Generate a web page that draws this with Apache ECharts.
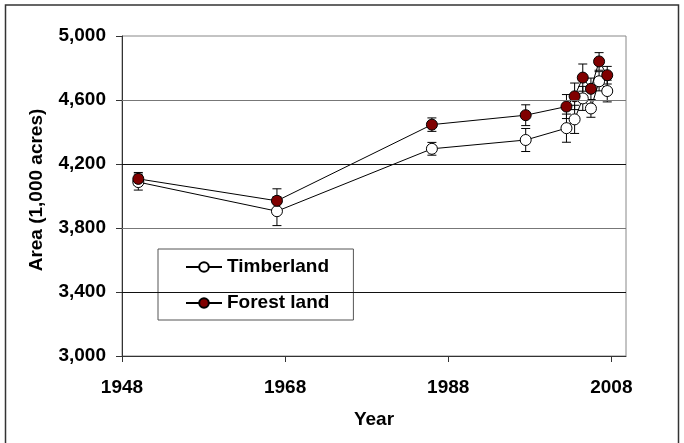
<!DOCTYPE html>
<html>
<head>
<meta charset="utf-8">
<script src="https://cdn.jsdelivr.net/npm/echarts@6/dist/echarts.min.js"></script>
<style>
html,body{margin:0;padding:0;background:#fff;}
#c{width:684px;height:443px;}
</style>
</head>
<body>
<div id="c"></div>
<script>
// ---- data ----
var years = [1950, 1967, 1986, 1997.5, 2002.5, 2003.5, 2004.5, 2005.5, 2006.5, 2007.5];
var timberland = [4087, 3905, 4295, 4350, 4424, 4479, 4610, 4547, 4717, 4656];
var timberErr  = [50, 90, 40, 72, 88, 88, 75, 55, 60, 68];
var forestLand = [4107, 3970, 4446, 4505, 4559, 4623, 4740, 4670, 4841, 4755];
var forestErr  = [40, 75, 42, 65, 75, 83, 85, 67, 55, 55];
var xTicks = [1948, 1968, 1988, 2008];
var yTicks = [3000, 3400, 3800, 4200, 4600, 5000];
var gridValues = [3400, 3800, 4200, 4600];
var gridColors = ['#111', '#777', '#111', '#777'];
var seriesNames = ['Timberland', 'Forest land'];

var FONT = 'Liberation Sans, Arial, sans-serif';
var FS = 19;

function pairs(xs, ys) { return xs.map(function (x, i) { return [x, ys[i]]; }); }
function errData(xs, ys, es) { return xs.map(function (x, i) { return [x, ys[i] - es[i], ys[i] + es[i]]; }); }

function errRender(params, api) {
  var x = api.value(0);
  var lo = api.coord([x, api.value(1)]);
  var hi = api.coord([x, api.value(2)]);
  var cap = 4.5;
  var st = { stroke: '#000', lineWidth: 1 };
  return {
    type: 'group',
    children: [
      { type: 'line', shape: { x1: lo[0], y1: lo[1], x2: hi[0], y2: hi[1] }, style: st },
      { type: 'line', shape: { x1: lo[0] - cap, y1: lo[1], x2: lo[0] + cap, y2: lo[1] }, style: st },
      { type: 'line', shape: { x1: hi[0] - cap, y1: hi[1], x2: hi[0] + cap, y2: hi[1] }, style: st }
    ]
  };
}

var chart = echarts.init(document.getElementById('c'), null, { renderer: 'canvas' });
var fmtThousands = function (v) { return v.toLocaleString('en-US'); };

chart.setOption({
  animation: false,
  backgroundColor: '#fff',
  textStyle: { fontFamily: FONT },
  graphic: [{
    type: 'rect',
    shape: { x: 5.5, y: 5, width: 673, height: 450 },
    style: { fill: 'none', stroke: '#333', lineWidth: 1.5 },
    silent: true, z: 0
  }],
  grid: {
    left: 122, right: 58, top: 36, bottom: 87,
    show: true, borderColor: '#888', borderWidth: 1, backgroundColor: 'transparent'
  },
  legend: {
    left: 158, top: 249,
    orient: 'vertical',
    data: seriesNames,
    backgroundColor: '#fff',
    borderColor: '#555', borderWidth: 1,
    padding: [8, 24, 7, 27],
    itemWidth: 36, itemHeight: 12, itemGap: 16,
    textStyle: { fontFamily: FONT, fontWeight: 'bold', fontSize: FS, color: '#000', lineHeight: 20 }
  },
  xAxis: {
    type: 'value', min: 1948, max: 2009.8,
    name: 'Year', nameLocation: 'middle', nameGap: 54,
    nameTextStyle: { fontFamily: FONT, fontWeight: 'bold', fontSize: FS, color: '#000' },
    axisLine: { show: true, lineStyle: { color: '#333', width: 1 } },
    axisTick: { show: true, inside: false, length: 6, customValues: xTicks, lineStyle: { color: '#333' } },
    axisLabel: { customValues: xTicks, margin: 22, fontFamily: FONT, fontWeight: 'bold', fontSize: FS, color: '#000',
      formatter: function (v) { return String(v); } },
    splitLine: { show: false }
  },
  yAxis: {
    type: 'value', min: 3000, max: 5000,
    name: 'Area (1,000 acres)', nameLocation: 'middle', nameGap: 76, nameRotate: 90,
    nameTextStyle: { fontFamily: FONT, fontWeight: 'bold', fontSize: FS, color: '#000', padding: [0, 0, 0, 12] },
    axisLine: { show: true, lineStyle: { color: '#333', width: 1 } },
    axisTick: { show: true, inside: false, length: 6, customValues: yTicks, lineStyle: { color: '#333' } },
    axisLabel: { customValues: yTicks, margin: 16, fontFamily: FONT, fontWeight: 'bold', fontSize: FS, color: '#000',
      formatter: fmtThousands },
    splitLine: { show: false }
  },
  series: [
    {
      name: 'gridlines', type: 'line', data: [], silent: true,
      markLine: {
        silent: true, symbol: 'none', label: { show: false },
        lineStyle: { width: 1, type: 'solid' },
        data: gridValues.map(function (v, i) { return { yAxis: v, lineStyle: { color: gridColors[i] } }; }),
        animation: false
      },
      z: 1
    },
    {
      name: 'timberErr', type: 'custom', renderItem: errRender,
      data: errData(years, timberland, timberErr), z: 2, silent: true
    },
    {
      name: 'forestErr', type: 'custom', renderItem: errRender,
      data: errData(years, forestLand, forestErr), z: 2, silent: true
    },
    {
      name: seriesNames[0], type: 'line', data: pairs(years, timberland),
      symbol: 'circle', symbolSize: 11, showAllSymbol: true,
      lineStyle: { color: '#000', width: 1 },
      itemStyle: { color: '#fff', borderColor: '#000', borderWidth: 1 },
      z: 3
    },
    {
      name: seriesNames[1], type: 'line', data: pairs(years, forestLand),
      symbol: 'circle', symbolSize: 11, showAllSymbol: true,
      lineStyle: { color: '#000', width: 1 },
      itemStyle: { color: '#800000', borderColor: '#000', borderWidth: 1 },
      z: 4
    }
  ]
});
</script>
</body>
</html>
